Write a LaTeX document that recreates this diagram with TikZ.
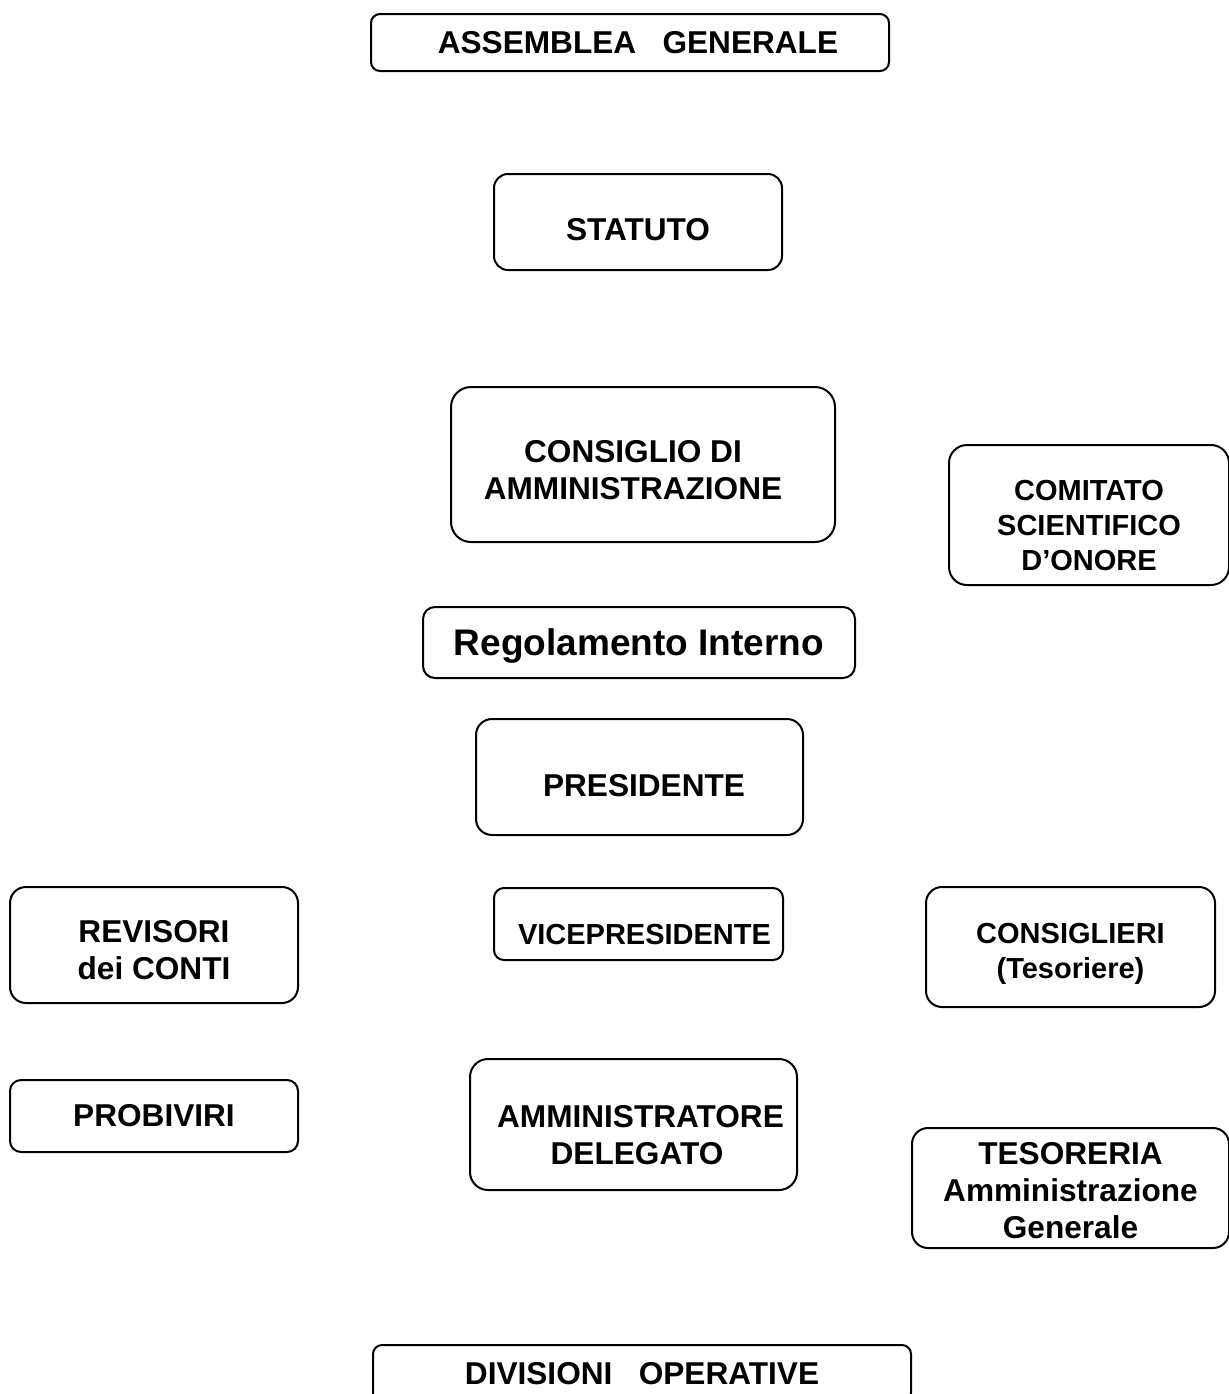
\documentclass[tikz,border=0pt]{standalone}
\usepackage{fontspec}
\setmainfont{Liberation Sans}
\usepackage{tikz}
\usetikzlibrary{positioning}
\newcommand{\textdrop}[1]{\rule{0pt}{#1}} % pushes the text down in its box
\tikzset{
  box/.style={rectangle, draw, line width=1pt, rounded corners=#1, align=center, inner sep=0pt,
              font=\fontsize{15.8}{18.5}\selectfont\bfseries},
  box/.default=6pt,
  midtext/.style={font=\fontsize{14.5}{17.3}\selectfont\bfseries},
  bigtext/.style={font=\fontsize{18.5}{22}\selectfont\bfseries},
}

\begin{document}
\begin{tikzpicture}[x=0.5pt, y=-0.5pt]
  \useasboundingbox (0,0) rectangle (1229,1394);
  \clip (0,0) rectangle (1229,1394); % bottom box runs off the page

  \node[box=4.5pt, minimum width=259pt, minimum height=28.5pt] (assemblea) at (630,42.5) {\hspace*{8pt}ASSEMBLEA\ \ \ GENERALE};
  \node[box=7pt, minimum width=144pt, minimum height=48pt] (statuto) at (638,222) {\textdrop{18.5pt}STATUTO};
  \node[box=10pt, minimum width=192pt, minimum height=77.5pt] (consiglio) at (643,464.5) {\textdrop{17pt}\hspace*{-10pt}CONSIGLIO DI\\\hspace*{-10pt}AMMINISTRAZIONE};
  \node[box=9pt, midtext, minimum width=140pt, minimum height=70pt] (comitato) at (1089,515) {\textdrop{20.6pt}COMITATO\\SCIENTIFICO\\D’ONORE};
  \node[box=6pt, bigtext, minimum width=216pt, minimum height=35.5pt] (regolamento) at (639,642.5) {\textdrop{16.5pt}Regolamento Interno};
  \node[box=8pt, minimum width=163.5pt, minimum height=58pt] (presidente) at (639.5,777) {\textdrop{20pt}\hspace*{4.5pt}PRESIDENTE};

  \node[box=8pt, minimum width=144pt, minimum height=58pt] (revisori) at (154,945) {\textdrop{16.5pt}REVISORI\\dei CONTI};
  \node[box=5pt, midtext, minimum width=144.5pt, minimum height=36pt] (vice) at (638.5,924) {\textdrop{20.6pt}\hspace*{6pt}VICEPRESIDENTE};
  \node[box=8pt, midtext, minimum width=144.5pt, minimum height=60pt] (consiglieri) at (1070.5,947) {\textdrop{17.1pt}CONSIGLIERI\\(Tesoriere)};

  \node[box=5.5pt, minimum width=144pt, minimum height=36pt] (probiviri) at (154,1116) {PROBIVIRI};
  \node[box=9pt, minimum width=163.5pt, minimum height=65.5pt] (amministratore) at (633.5,1124.5) {\textdrop{21.5pt}\hspace*{7pt}AMMINISTRATORE\\\hspace*{3.5pt}DELEGATO};
  \node[box=8pt, minimum width=158.5pt, minimum height=60pt] (tesoreria) at (1070.5,1188) {\textdrop{13.5pt}TESORERIA\\Amministrazione\\Generale};

  \node[box=4.5pt, minimum width=269pt, minimum height=28.5pt] (divisioni) at (642,1373.5) {DIVISIONI\ \ \ OPERATIVE};
\end{tikzpicture}
\end{document}
